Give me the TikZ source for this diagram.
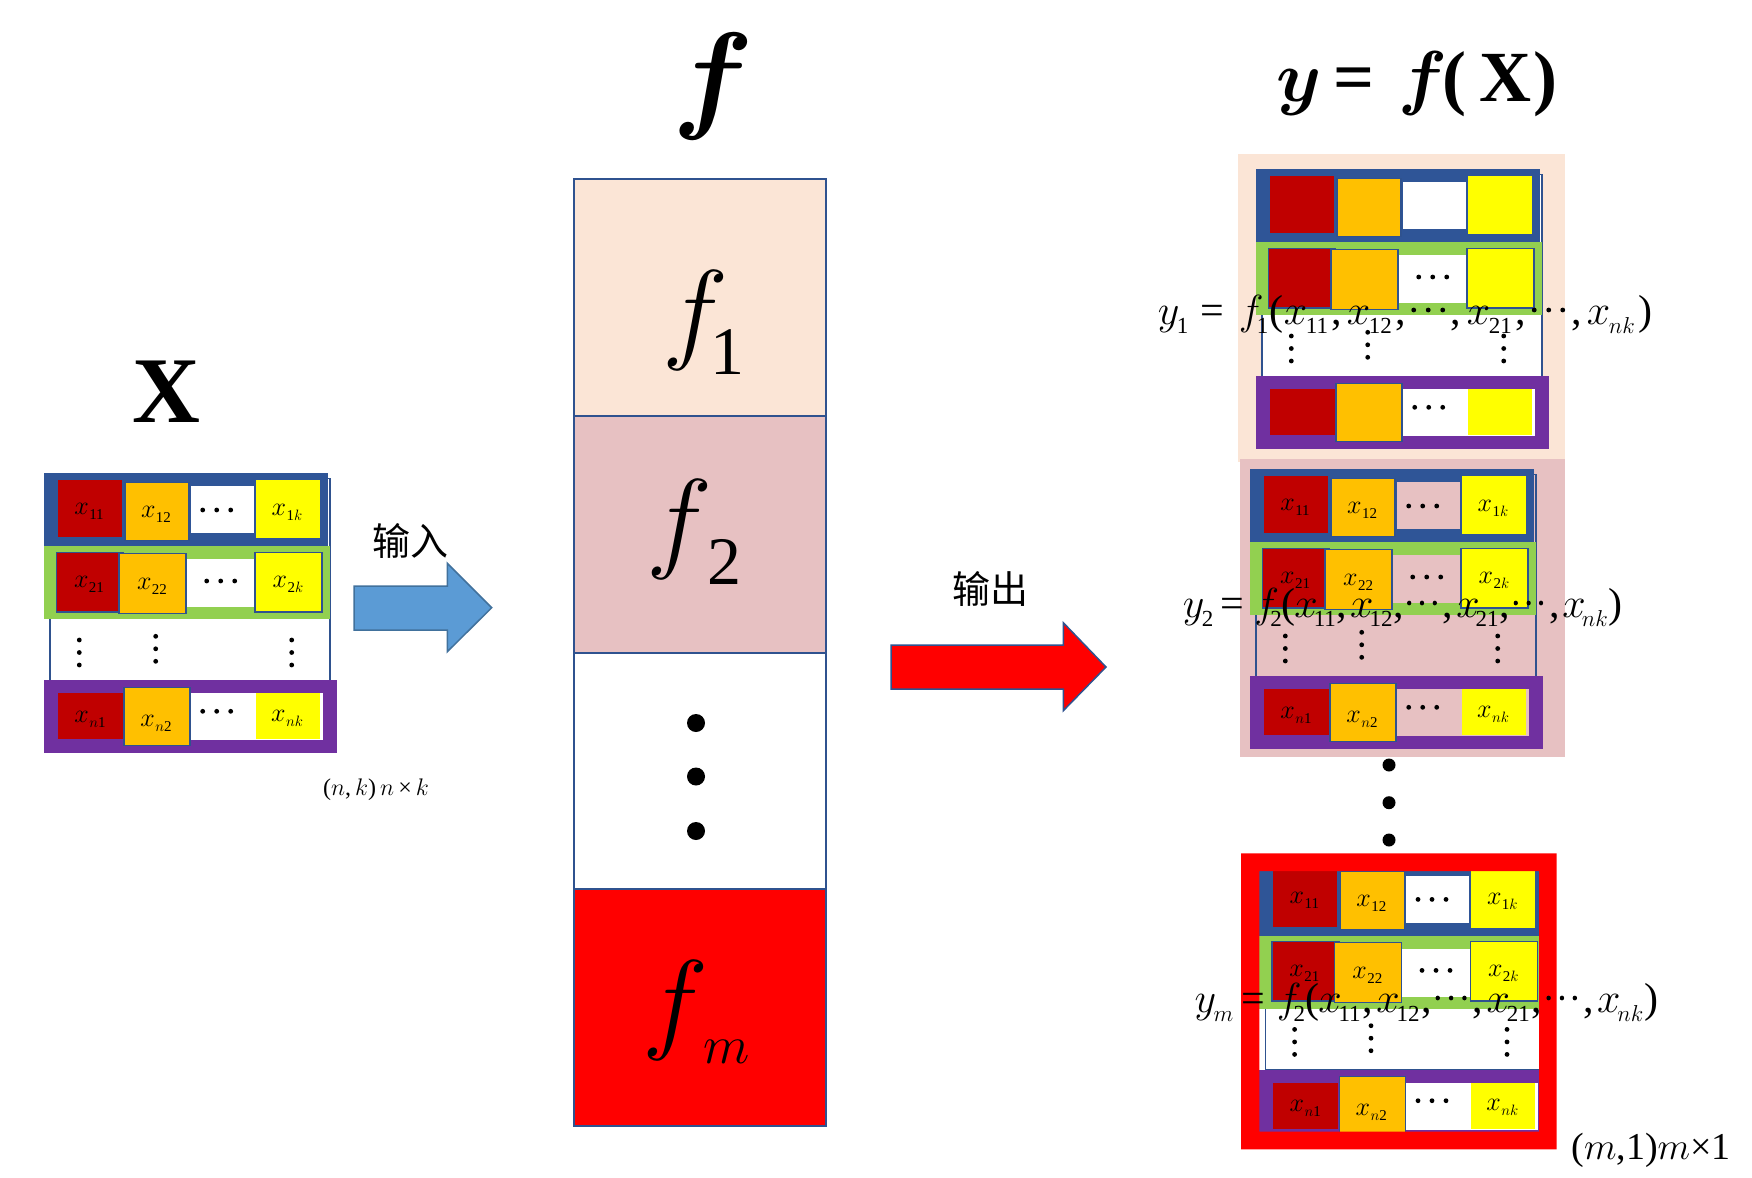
\RequirePackage{fix-cm}
\documentclass[tikz,border=0pt]{standalone}
\usepackage{bm}
\usepackage{fontspec}
\setmainfont{Liberation Serif}
\newfontfamily\cjk{Noto Sans CJK SC}
\definecolor{rowblue}{RGB}{47,85,151}
\definecolor{rowgreen}{RGB}{146,208,80}
\definecolor{rowpurple}{RGB}{112,48,160}
\definecolor{cred}{RGB}{192,0,0}
\definecolor{corange}{RGB}{255,192,0}
\definecolor{cyellow}{RGB}{255,255,0}
\definecolor{lineb}{RGB}{47,82,143}
\definecolor{peach}{RGB}{251,229,214}
\definecolor{pinkt}{RGB}{231,193,194}
\definecolor{arrowblue}{RGB}{91,155,213}
\definecolor{arrowline}{RGB}{65,113,156}
\newcommand\xlab[1]{$x$\kern0.5pt\raisebox{-5pt}{\fontsize{15}{16}\selectfont #1}}
\newcommand\hdotsr[2]{\fill (#1,#2) circle (2.4pt) (#1+14,#2) circle (2.4pt) (#1+28,#2) circle (2.4pt);}
\newcommand\vdotsr[2]{\fill (#1,#2) circle (2.4pt) (#1,#2+12.5) circle (2.4pt) (#1,#2+25) circle (2.4pt);}
\newcommand\mblock[5]{%
\begin{scope}[shift={(#2,#3)}]
\draw[thinb,fill=#4] (6,5) rectangle (286,207);
\fill[rowblue] (0,0) rectangle (284,73);
\fill[cred] (14,7) rectangle (78,64);
\draw[thinb,fill=corange] (81,9) rectangle (145,67);
\fill[#4] (147,13) rectangle (210,60);
\fill[cyellow] (212,7) rectangle (276,65);
\fill[rowgreen] (0,73) rectangle (286,146);
\fill[#4] (142,86) rectangle (211,134);
\draw[thinb,fill=cred] (12.5,79) rectangle (79.5,138.5);
\draw[thinb,fill=corange] (75,80) rectangle (142,140);
\draw[thinb,fill=cyellow] (211,79) rectangle (278,138.5);
\fill[rowpurple] (0,207) rectangle (293,280);
\fill[#4] (146,220) rectangle (279,267);
\fill[cred] (14,220) rectangle (79,266);
\draw[thinb,fill=corange] (80,214) rectangle (146,272);
\fill[cyellow] (212,220) rectangle (276,266);
\hdotsr{162.7}{107.7}
\hdotsr{158.7}{238}
\vdotsr{35.3}{166.7}
\vdotsr{111.7}{163}
\vdotsr{247.7}{166.7}
\ifnum#5=1
\hdotsr{158.7}{36.7}
\node[lab] (#1-11) at (45,38) {\xlab{11}};
\node[lab] (#1-12) at (112,41) {\xlab{12}};
\node[lab] (#1-1k) at (243,39) {\xlab{1$k$}};
\node[lab] (#1-21) at (45,111) {\xlab{21}};
\node[lab] (#1-22) at (108,113) {\xlab{22}};
\node[lab] (#1-2k) at (244,111) {\xlab{2$k$}};
\node[lab] (#1-n1) at (46,246) {\xlab{$n$1}};
\node[lab] (#1-n2) at (112,250) {\xlab{$n$2}};
\node[lab] (#1-nk) at (243,245) {\xlab{$nk$}};
\fi
\end{scope}}
\newcommand\eqline[7]{%
\begin{scope}[shift={(#2,#3)}]
\node[eqt] (#1-y) at (1,0) {$y$};
\node[eqs] (#1-ys) at (20,9) {#5};
\begin{scope}[xshift=#7, xscale=#4]
\node[eqt] (#1-eq) at (44,0) {=};
\node[eqt] (#1-f) at (82,0) {$f$};
\node[eqs] (#1-fs) at (100,9) {#6};
\node[eqt] (#1-lp) at (113,0) {(};
\node[eqt] (#1-xa) at (127,0) {$x$};
\node[eqs] (#1-sa) at (149,9) {11};
\node[eqt] (#1-ca) at (175,0) {,};
\node[eqt] (#1-xb) at (190,0) {$x$};
\node[eqs] (#1-sb) at (212,9) {12};
\node[eqt] (#1-cb) at (239,0) {,};
\fill (257,-14) circle (2.4pt) (271.5,-14) circle (2.4pt) (286,-14) circle (2.4pt);
\node[eqt] (#1-cc) at (294,0) {,};
\node[eqt] (#1-xc) at (310,0) {$x$};
\node[eqs] (#1-sc) at (332,9) {21};
\node[eqt] (#1-cd) at (359,0) {,};
\fill (377.5,-14) circle (2.4pt) (392,-14) circle (2.4pt) (406,-14) circle (2.4pt);
\node[eqt] (#1-ce) at (415,0) {,};
\node[eqt] (#1-xd) at (430,0) {$x$};
\node[eqs] (#1-sd) at (452,9) {$nk$};
\node[eqt] (#1-rp) at (482,0) {)};
\end{scope}
\end{scope}}
\begin{document}
\begin{tikzpicture}[x=1pt,y=-1pt,
  thinb/.style={draw=lineb,line width=1.5pt},
  colb/.style={draw=lineb,line width=2pt},
  lab/.style={inner sep=0pt,font=\fontsize{26}{28}\selectfont},
  eqt/.style={anchor=base west,inner sep=0pt,font=\fontsize{42}{46}\selectfont},
  eqs/.style={anchor=base west,inner sep=0pt,font=\fontsize{23}{25}\selectfont},
  bigf/.style={anchor=base west,inner sep=0pt,font=\fontsize{112}{120}\selectfont},
  bigs/.style={anchor=base west,inner sep=0pt,font=\fontsize{68}{72}\selectfont},
  title/.style={anchor=base west,inner sep=0pt,font=\fontsize{72}{80}\selectfont\bfseries},
  cjkt/.style={inner sep=0pt,font=\fontsize{38}{40}\selectfont\cjk}]
\useasboundingbox (0,0) rectangle (1752,1177);
\fill[white] (0,0) rectangle (1752,1177);
% titles
\node[anchor=base west,inner sep=0pt,font=\fontsize{94}{100}\selectfont\bfseries] (Xlabel) at (132,422) {X};
\node[anchor=base west,inner sep=0pt,font=\fontsize{120}{126}\selectfont] (ftitle) at (672,117) {$\bm{f}$};
\node[title] (ty) at (1276,101.7) {$\bm{y}$};
\node[title] (teq) at (1333,101.7) {=};
\node[title] (tf) at (1398,101.7) {$\bm{f}$};
\node[title] (tlp) at (1442,101.7) {(};
\node[title] (tX) at (1479,101.7) {X};
\node[title] (trp) at (1533,101.7) {)};
% left matrix
\mblock{L}{44}{473.3}{white}{1}
\node[inner sep=0pt,font=\fontsize{24}{26}\selectfont] (dimX) at (376,790) {($n$,\,$k$)\,$n$\,×\,$k$};
% blue arrow
\draw[draw=arrowline,line width=1.5pt,fill=arrowblue] (354,586) -- (447.3,586) -- (447.3,563.3) -- (491.7,607.7) -- (447.3,651.7) -- (447.3,630) -- (354,630) -- cycle;
\node[cjkt] (in) at (410,541) {输入};
% middle column
\draw[colb,fill=peach] (574.3,178.8) rectangle (825.7,415.7);
\draw[colb,fill=pinkt] (574.3,415.7) rectangle (825.7,652.6);
\draw[colb,fill=white] (574.3,652.6) rectangle (825.7,889.4);
\draw[colb,fill=red] (574.3,889.4) rectangle (825.7,1126.3);
\node[bigf] (f1) at (662,348) {$f$};
\node[bigs] (f1s) at (710,374) {1};
\node[bigf] (f2) at (646,557) {$f$};
\node[bigs] (f2s) at (707,584) {2};
\node[bigf] (fm) at (642,1038) {$f$};
\node[bigs,font=\fontsize{54}{58}\selectfont] (fms) at (703,1063) {$m$};
\fill (696,723) circle (9pt) (696,776.5) circle (9pt) (696,831) circle (9pt);
% red arrow
\draw[draw=lineb,line width=1.5pt,fill=red] (891,645) -- (1063.3,645) -- (1063.3,622.7) -- (1106,667) -- (1063.3,710.7) -- (1063.3,689) -- (891,689) -- cycle;
\node[cjkt] (out) at (990,589) {输出};
% right blocks
\fill[peach] (1237.7,154) rectangle (1565,461.7);
\fill[pinkt] (1240,459) rectangle (1565,756.7);
\mblock{B1}{1256}{169.3}{white}{0}
\mblock{B2}{1250}{469.3}{pinkt}{1}
\fill (1389,765) circle (6.5pt) (1389,802.7) circle (6.5pt) (1389,840) circle (6.5pt);
\mblock{B3}{1259.3}{862.7}{white}{1}
\fill[red,even odd rule] (1241,853.3) rectangle (1556.7,1149.3) (1259.3,871) rectangle (1539,1131.7);
\node[inner sep=0pt,font=\fontsize{38}{40}\selectfont] (dimY) at (1651,1150) {($m$,1)$m$×1};
% equations
\eqline{E1}{1156.7}{324}{1}{1}{1}{0}
\eqline{E2}{1181.7}{617}{0.885}{2}{2}{0}
\eqline{E3}{1193.3}{1012}{0.92}{$m$}{2}{8}
\end{tikzpicture}
\end{document}
